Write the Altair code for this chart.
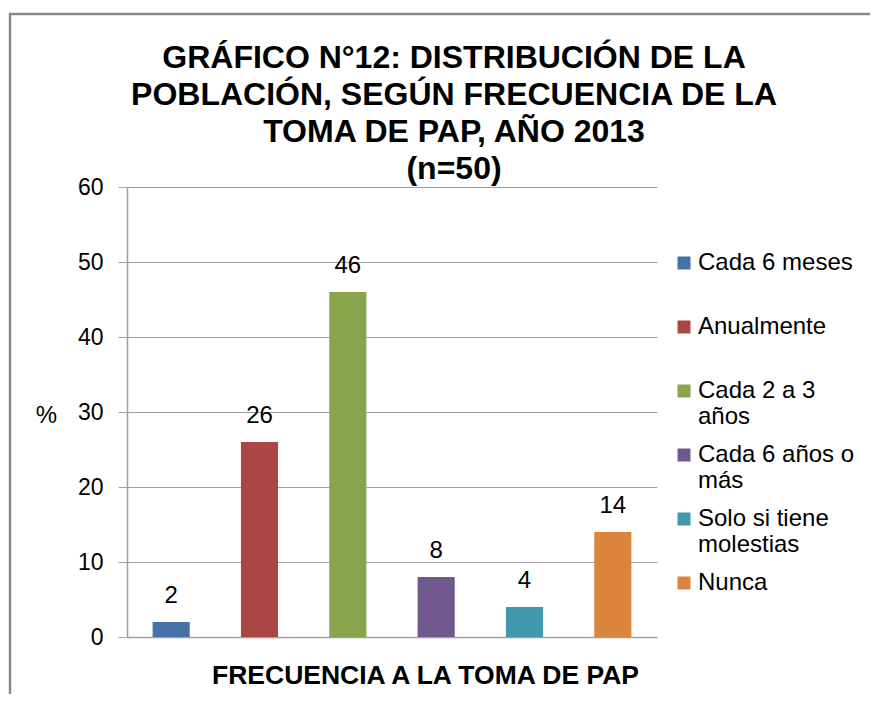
import altair as alt
import pandas as pd

categories = ["Cada 6 meses", "Anualmente", "Cada 2 a 3 años",
              "Cada 6 años o más", "Solo si tiene molestias", "Nunca"]
values = [2, 26, 46, 8, 4, 14]
colors = ["#4572A7", "#AA4643", "#89A54E", "#71588F", "#4198AF", "#DB843D"]
legend_lines = [["Cada 6 meses"], ["Anualmente"], ["Cada 2 a 3", "años"],
                ["Cada 6 años o", "más"], ["Solo si tiene", "molestias"], ["Nunca"]]
y_ticks = [0, 10, 20, 30, 40, 50, 60]
title_lines = ["GRÁFICO N°12: DISTRIBUCIÓN DE LA",
               "POBLACIÓN, SEGÚN FRECUENCIA DE LA",
               "TOMA DE PAP, AÑO 2013",
               "(n=50)"]
x_title = "FRECUENCIA A LA TOMA DE PAP"
y_title = "%"

FONT = "Liberation Sans"
GRAY = "#a0a0a0"

df = pd.DataFrame({"cat": categories, "val": values})


def js(s):
    return "'" + s.replace("'", "\\'") + "'"


label_expr = "datum.label"
for cat, lines in reversed(list(zip(categories, legend_lines))):
    padded = lines + [""] * (2 - len(lines))
    arr = "[" + ",".join(js(l) for l in padded) + "]"
    label_expr = f"(datum.label == {js(cat)} ? {arr} : {label_expr})"

x_enc = alt.X(
    "cat:N", sort=categories,
    scale=alt.Scale(paddingInner=0.58, paddingOuter=0.29),
    axis=alt.Axis(labels=False, ticks=False, domainColor=GRAY, domainWidth=1.5,
                  title=x_title, titleFont=FONT, titleFontSize=26.5,
                  titleFontWeight="bold", titleColor="black",
                  titleX=298, titleY=38, titleAlign="center",
                  titleBaseline="middle"),
)
y_enc = alt.Y(
    "val:Q", scale=alt.Scale(domain=[0, 60]),
    axis=alt.Axis(values=y_ticks, title=y_title, titleAngle=0, titleX=-81,
                  titleY=228, titleAlign="center", titleBaseline="middle",
                  titleFont=FONT, titleFontSize=24, titleFontWeight="normal",
                  titleColor="black", labelFont=FONT, labelFontSize=23,
                  labelColor="black", labelPadding=15, tickSize=9,
                  tickColor=GRAY, domainColor=GRAY, domainWidth=1.5,
                  gridColor=GRAY, gridWidth=1),
)

bars = alt.Chart(df).mark_bar().encode(
    x=x_enc, y=y_enc,
    color=alt.Color(
        "cat:N", sort=categories,
        scale=alt.Scale(domain=categories, range=colors),
        legend=alt.Legend(
            orient="none", legendX=545, legendY=64, title=None,
            symbolType="square", symbolSize=169, symbolStrokeWidth=0,
            symbolOpacity=1, labelFont=FONT, labelFontSize=24,
            labelColor="black", labelExpr=label_expr, labelBaseline="middle",
            labelLimit=300, labelOffset=2, padding=0,
            rowPadding=14, gridAlign="all",
        ),
    ),
)

labels = alt.Chart(df).mark_text(
    dy=-19, baseline="alphabetic", font=FONT, fontSize=24, color="black"
).encode(x=alt.X("cat:N", sort=categories), y="val:Q", text="val:Q")

border = alt.Chart(pd.DataFrame({"a": [0]})).mark_rect(
    fillOpacity=0, stroke="#8a8a8a", strokeWidth=2.5
).encode(x=alt.value(-117), x2=alt.value(900), y=alt.value(-173),
         y2=alt.value(800))

chart = alt.layer(border, bars, labels).properties(
    width=530, height=450,
    autosize=alt.AutoSizeParams(type="none"),
    padding={"left": 119, "top": 179, "right": 213, "bottom": 57},
    background="white",
    title=alt.TitleParams(text=title_lines, font=FONT, fontSize=32,
                          fontWeight="bold", color="black", anchor="middle",
                          dx=62, offset=0, dy=173, lineHeight=37,
                          frame="group"),
).configure(
    view=alt.ViewConfig(stroke=None),
    style={"guide-label": {"lineHeight": 26}},
)

chart.save("out.html", embed_options={"renderer": "svg", "actions": False})
